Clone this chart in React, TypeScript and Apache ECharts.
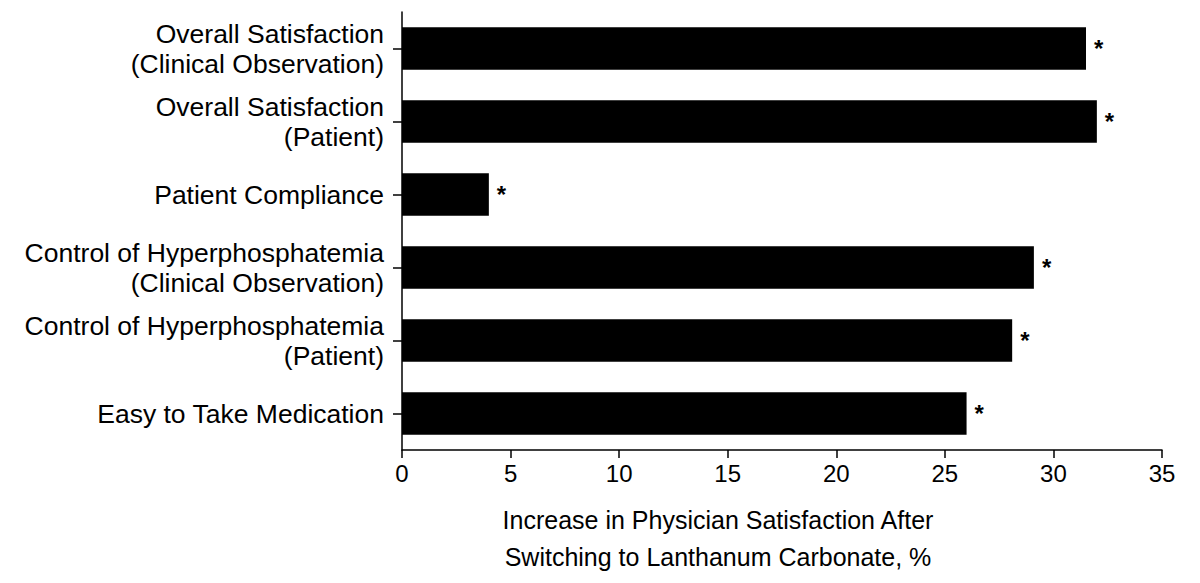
import React, { useEffect, useRef } from "react";
import * as echarts from "echarts";

const categories = [
  "Overall Satisfaction\n(Clinical Observation)",
  "Overall Satisfaction\n(Patient)",
  "Patient Compliance",
  "Control of Hyperphosphatemia\n(Clinical Observation)",
  "Control of Hyperphosphatemia\n(Patient)",
  "Easy to Take Medication",
];
const values = [31.5, 32, 4, 29.1, 28.1, 26];
const markers = ["*", "*", "*", "*", "*", "*"];
const xTitleLines = [
  "Increase in Physician Satisfaction After",
  "Switching to Lanthanum Carbonate, %",
];

const FONT = "'Liberation Sans', Arial, Helvetica, sans-serif";

export default function App() {
  const ref = useRef<HTMLDivElement>(null);
  useEffect(() => {
    if (!ref.current) return;
    const chart = echarts.init(ref.current, null, { renderer: "svg" });
    chart.setOption({
      animation: false,
      backgroundColor: "#ffffff",
      grid: { left: 394, right: 30, top: 4, bottom: 125, containLabel: false },
      xAxis: {
        type: "value",
        min: 0,
        max: 35,
        interval: 5,
        axisLine: { show: true, lineStyle: { color: "#000", width: 1.5 } },
        axisTick: { show: true, length: 8, lineStyle: { color: "#000", width: 1.5 } },
        axisLabel: { color: "#000", fontSize: 24, fontFamily: FONT, margin: 11 },
        splitLine: { show: false },
      },
      yAxis: {
        type: "category",
        data: categories,
        inverse: true,
        axisLine: { show: true, lineStyle: { color: "#000", width: 1.5 } },
        axisTick: { show: true, length: 9, alignWithLabel: true, lineStyle: { color: "#000", width: 1.5 } },
        axisLabel: {
          color: "#000",
          fontSize: 26.5,
          fontFamily: FONT,
          margin: 18,
          lineHeight: 30,
          align: "right",
        },
      },
      series: [
        {
          type: "bar",
          data: values.map((v, i) => ({ value: v, marker: markers[i] })),
          barCategoryGap: "42%",
          itemStyle: { color: "#000" },
          label: {
            show: true,
            position: "right",
            distance: 8,
            formatter: (p: any) => markers[p.dataIndex],
            color: "#000",
            fontSize: 24,
            fontWeight: "bold",
            fontFamily: FONT,
          },
        },
      ],
      graphic: xTitleLines.map((t, i) => ({
        type: "text",
        x: 710,
        y: 512 + i * 37,
        style: {
          text: t,
          fill: "#000",
          font: `25px ${FONT}`,
          textAlign: "center",
          textVerticalAlign: "middle",
        },
      })),
    });
    return () => chart.dispose();
  }, []);
  return <div ref={ref} style={{ width: 1184, height: 567 }} />;
}
